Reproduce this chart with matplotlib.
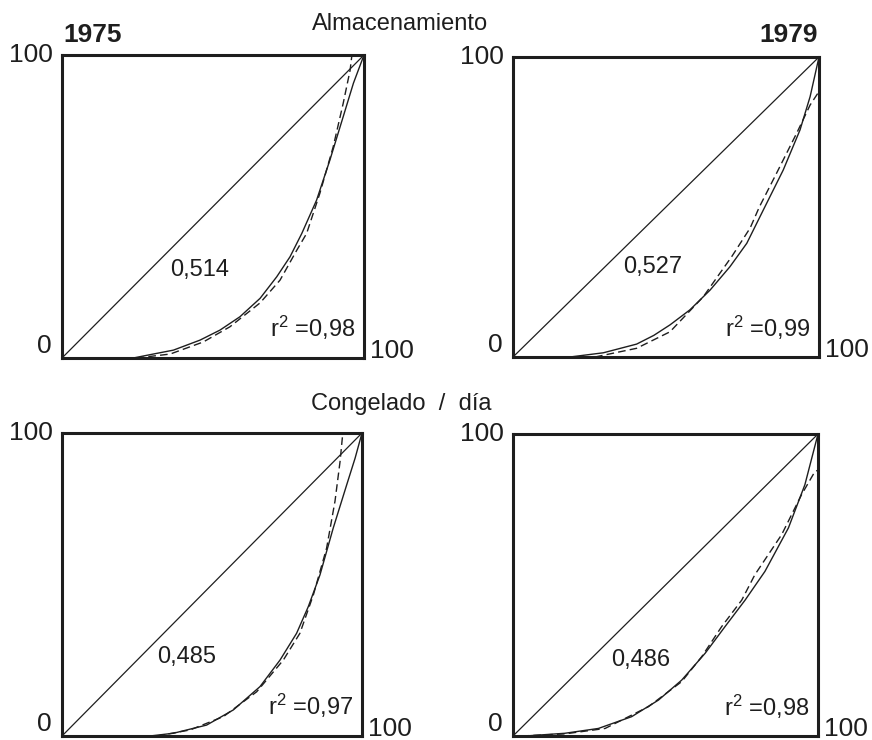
import matplotlib
matplotlib.use('Agg')
import matplotlib.pyplot as plt

plt.rcParams['font.family'] = ['Liberation Sans', 'DejaVu Sans']
plt.rcParams['mathtext.fontset'] = 'custom'
plt.rcParams['mathtext.rm'] = 'Liberation Sans'
plt.rcParams['mathtext.it'] = 'Liberation Sans'

# curvas de Lorenz (% acumulado), trazo continuo = observado, discontinuo = ajuste
alm75_x = [23.6, 30.2, 36.9, 45.7, 52.3, 58.9, 65.6, 71.1, 75.5, 79.4, 84.3, 88.7, 93.1, 96.5, 100]
alm75_y = [0, 1.3, 2.6, 5.9, 9.2, 13.6, 19.7, 26.8, 33.4, 41.1, 52.1, 65.3, 79.6, 90.7, 100]
alm75_fit_x = [24.7, 35.8, 46.8, 55.6, 65.6, 72.2, 77.7, 81.0, 85.4, 89.8, 93.1, 95.4, 96.0]
alm75_fit_y = [0, 1.3, 5.3, 10.3, 18.2, 25.7, 35.5, 41.1, 54.4, 69.7, 84.0, 95.0, 100]

alm79_x = [18.6, 29.5, 40.4, 46.0, 51.3, 57.8, 64.4, 70.9, 76.4, 81.8, 88.3, 93.8, 97.1, 100]
alm79_y = [0, 1.4, 4.3, 7.2, 10.7, 15.7, 22.3, 30.1, 37.9, 49.0, 62.3, 75.7, 86.8, 100]
alm79_fit_x = [26.8, 40.4, 51.3, 62.2, 67.6, 71.5, 77.5, 80.5, 86.1, 92.7, 97.1, 100]
alm79_fit_y = [0, 2.9, 8.4, 20.1, 27.9, 33.5, 43.0, 50.0, 61.2, 74.6, 84.0, 88.5]

con75_x = [29.3, 37.1, 48.2, 57.1, 66.0, 72.7, 78.2, 82.1, 86.0, 90.4, 94.9, 97.7, 100]
con75_y = [0, 0.9, 3.6, 8.6, 16.3, 25.1, 33.9, 42.7, 53.2, 68.6, 82.9, 91.7, 100]
con75_fit_x = [31.6, 42.7, 53.8, 64.9, 73.8, 79.3, 83.8, 88.2, 91.0, 92.7, 93.6]
con75_fit_y = [0, 2.0, 6.4, 14.6, 25.1, 33.9, 46.6, 62.0, 77.5, 90.7, 100]

con79_x = [4.0, 17.0, 28.0, 38.9, 47.7, 55.3, 63.0, 69.5, 76.1, 82.6, 90.3, 95.7, 100]
con79_y = [0, 0.9, 2.5, 6.4, 11.9, 18.5, 27.4, 36.2, 45.0, 54.5, 68.9, 83.2, 100]
con79_fit_x = [2.8, 17.0, 30.2, 44.4, 55.3, 61.9, 68.4, 75.0, 79.3, 88.1, 94.6, 99.0, 100]
con79_fit_y = [0, 0.7, 2.5, 9.7, 18.0, 26.3, 36.2, 45.0, 53.4, 66.7, 79.9, 87.6, 88.0]

gini = ['0,514', '0,527', '0,485', '0,486']
r2 = ['0,98', '0,99', '0,97', '0,98']
years = ['1975', '1979']

W, H = 872, 740
ink = '#1e1e1e'
fig = plt.figure(figsize=(W / 100, H / 100), dpi=100)

# caja de cada panel en pixeles: izquierda, derecha, arriba, abajo
boxes = [(62, 364, 55, 358), (513, 819, 57, 357),
         (62, 362, 433, 736), (513, 818, 434, 736)]
curves = [(alm75_x, alm75_y, alm75_fit_x, alm75_fit_y),
          (alm79_x, alm79_y, alm79_fit_x, alm79_fit_y),
          (con75_x, con75_y, con75_fit_x, con75_fit_y),
          (con79_x, con79_y, con79_fit_x, con79_fit_y)]
gini_pos = [(0.457, 0.29), (0.456, 0.30), (0.417, 0.26), (0.418, 0.253)]

for i, (l, r, t, b) in enumerate(boxes):
    ax = fig.add_axes([l / W, 1 - b / H, (r - l) / W, (b - t) / H])
    ax.set_xlim(0, 100)
    ax.set_ylim(0, 100)
    ax.set_xticks([])
    ax.set_yticks([])
    for s in ax.spines.values():
        s.set_linewidth(2.2)
        s.set_color(ink)
    cx, cy, fx, fy = curves[i]
    ax.plot([0, 100], [0, 100], color=ink, lw=0.9)
    ax.plot(cx, cy, color=ink, lw=1.0, clip_on=False)
    ax.plot(fx, fy, color=ink, lw=1.0, dashes=(5.5, 3), clip_on=False)

    ax.text(gini_pos[i][0], gini_pos[i][1], gini[i], transform=ax.transAxes,
            ha='center', va='center', fontsize=17, color=ink)
    ax.text(0.972, 0.068, r'r$^{\mathrm{2}}$ =' + r2[i], transform=ax.transAxes,
            ha='right', va='baseline', fontsize=17, color=ink)

    # etiquetas de las esquinas
    ax.text(-0.03, 1.0, '100', transform=ax.transAxes, ha='right',
            va='center', fontsize=19, color=ink)
    ax.text(-0.035, 0.017, '0', transform=ax.transAxes, ha='right',
            va='baseline', fontsize=19, color=ink)
    ax.text(1.02, 0.0, '100', transform=ax.transAxes, ha='left',
            va='baseline', fontsize=19, color=ink)

fig.text(63 / W, 1 - 42 / H, years[0], fontsize=19, fontweight='bold',
         ha='left', va='baseline', color=ink)
fig.text(818 / W, 1 - 42 / H, years[1], fontsize=19, fontweight='bold',
         ha='right', va='baseline', color=ink)
fig.text(400 / W, 1 - 30 / H, 'Almacenamiento', fontsize=17,
         ha='center', va='baseline', color=ink)
fig.text(401 / W, 1 - 410 / H, 'Congelado  /  día', fontsize=17,
         ha='center', va='baseline', color=ink)

fig.savefig('out.png', dpi=100, facecolor='white')
